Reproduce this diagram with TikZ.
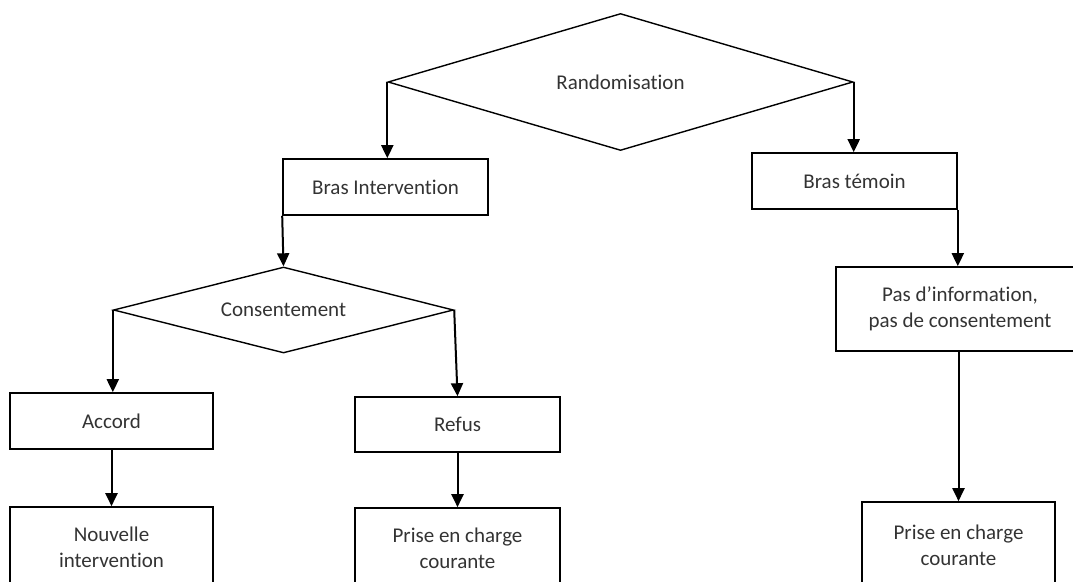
\documentclass[tikz,border=0pt]{standalone}
\usepackage{fontspec}
\setmainfont[Ligatures=NoCommon]{Carlito}
\usepackage{tikz}
\usetikzlibrary{shapes.geometric,arrows.meta}

\begin{document}
\begin{tikzpicture}[x=1pt, y=-1pt,
  every node/.style = {font=\fontsize{21}{26}\selectfont, text=black!80},
  boite/.style = {draw, line width=1.6pt, rectangle, inner sep=0pt, align=center},
  losange/.style = {draw, line width=1.4pt, diamond, inner sep=0pt},
  fleche/.style = {line width=2pt, -{Triangle[length=13pt, width=12pt]}}]
\clip (0,0) rectangle (1073,581);

\node[losange, aspect = 3.4, minimum width = 465pt, minimum height = 137pt] (rand) at (620.5,82) {Randomisation};
\node[losange, aspect = 3.95, minimum width = 340pt, minimum height = 86pt] (cons) at (283.5,310) {Consentement};

\node[boite, minimum width = 205pt, minimum height = 56pt] (brasint) at (385.5,187) {Bras Intervention};
\node[boite, minimum width = 205pt, minimum height = 56pt] (brastem) at (854.5,181) {Bras témoin};
\node[boite, minimum width = 248pt, minimum height = 84pt] (pasinfo) at (960,309) {Pas d’information,\\ pas de consentement};

\node[boite, minimum width = 203pt, minimum height = 56pt] (accord) at (111.5,421) {Accord};
\node[boite, minimum width = 205pt, minimum height = 55pt] (refus) at (457.5,424.5) {Refus};

\node[boite, minimum width = 203pt, minimum height = 80pt] (nouv) at (111.5,547) {Nouvelle\\ intervention};
\node[boite, minimum width = 205pt, minimum height = 80pt] (prise1) at (457.5,548) {Prise en charge\\ courante};
\node[boite, minimum width = 193pt, minimum height = 86pt] (prise2) at (958.5,545) {Prise en charge\\ courante};

\draw[fleche] (rand.west) -- (rand.west |- brasint.north);
\draw[fleche] (rand.east) -- (rand.east |- brastem.north);
\draw[fleche] (brasint.south west) -- (cons.north);
\draw[fleche] (brastem.south east) -- (brastem.south east |- pasinfo.north);
\draw[fleche] (pasinfo.south -| prise2.north) -- (prise2.north);
\draw[fleche] (cons.west) -- (cons.west |- accord.north);
\draw[fleche] (cons.east) -- (refus.north);
\draw[fleche] (accord.south) -- (nouv.north);
\draw[fleche] (refus.south) -- (prise1.north);
\end{tikzpicture}
\end{document}
